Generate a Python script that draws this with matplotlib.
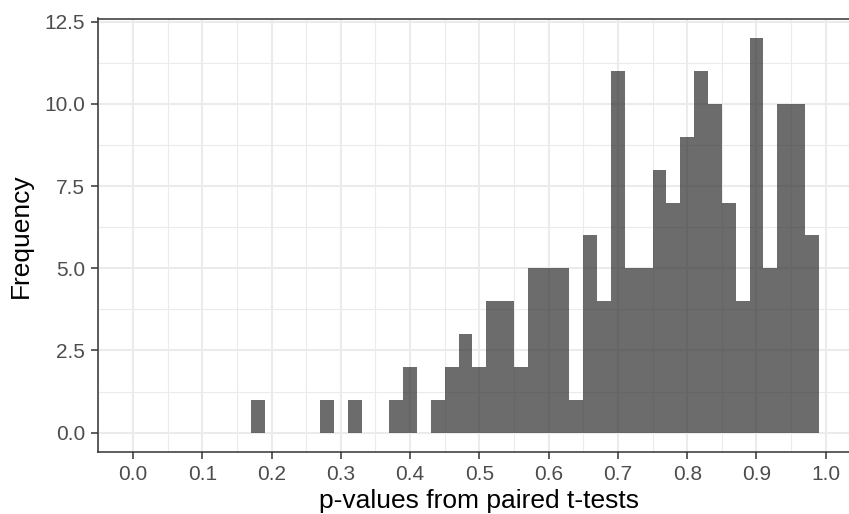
import numpy as np
import matplotlib
matplotlib.use("Agg")
import matplotlib.pyplot as plt
from matplotlib.ticker import MultipleLocator, FormatStrFormatter

# Histogram of p-values (binwidth 0.02, first bin starts at 0.17)
bin_start = 0.17
bin_width = 0.02
counts = [1, 0, 0, 0, 0, 1, 0, 1, 0, 0,
          1, 2, 0, 1, 2, 3, 2, 4, 4, 2,
          5, 5, 5, 1, 6, 4, 11, 5, 5, 8,
          7, 9, 11, 10, 7, 4, 12, 5, 10, 10,
          6]
x_ticks = [0.0, 0.1, 0.2, 0.3, 0.4, 0.5, 0.6, 0.7, 0.8, 0.9, 1.0]
y_ticks = [0.0, 2.5, 5.0, 7.5, 10.0, 12.5]

edges = bin_start + bin_width * np.arange(len(counts) + 1)
centers = (edges[:-1] + edges[1:]) / 2

plt.rcParams["font.family"] = ["Liberation Sans", "DejaVu Sans"]

W, H = 849, 514
fig = plt.figure(figsize=(W / 100, H / 100), dpi=100)
# panel runs past the right edge of the canvas
left, right, top, bottom = 98.3, 860.4, 18.5, 452.3
ax = fig.add_axes([left / W, 1 - bottom / H, (right - left) / W, (bottom - top) / H])

ax.hist(centers, bins=edges, weights=counts, color="#333333", alpha=0.72,
        linewidth=0, zorder=2)

ax.set_xlim(-0.05, 1.05)
ax.set_ylim(-0.6, 12.6)
ax.set_xticks(x_ticks)
ax.set_yticks(y_ticks)
ax.xaxis.set_major_formatter(FormatStrFormatter("%.1f"))
ax.yaxis.set_major_formatter(FormatStrFormatter("%.1f"))
ax.xaxis.set_minor_locator(MultipleLocator(0.05))
ax.yaxis.set_minor_locator(MultipleLocator(1.25))

ax.set_axisbelow(True)
ax.grid(which="major", color="#ebebeb", linewidth=1.5, zorder=0)
ax.grid(which="minor", color="#ebebeb", linewidth=0.8, zorder=0)

for s in ax.spines.values():
    s.set_color("#333333")
    s.set_linewidth(1.1)
ax.spines["right"].set_visible(False)

ax.tick_params(which="major", length=5, width=1.1, color="#333333",
               labelcolor="#4d4d4d", labelsize=15, pad=4.5)
ax.tick_params(which="minor", length=0)

ax.set_xlabel("p-values from paired t-tests", fontsize=19, labelpad=3.5)
ax.set_ylabel("Frequency", fontsize=19, labelpad=8)

fig.savefig("out.png", dpi=100)
